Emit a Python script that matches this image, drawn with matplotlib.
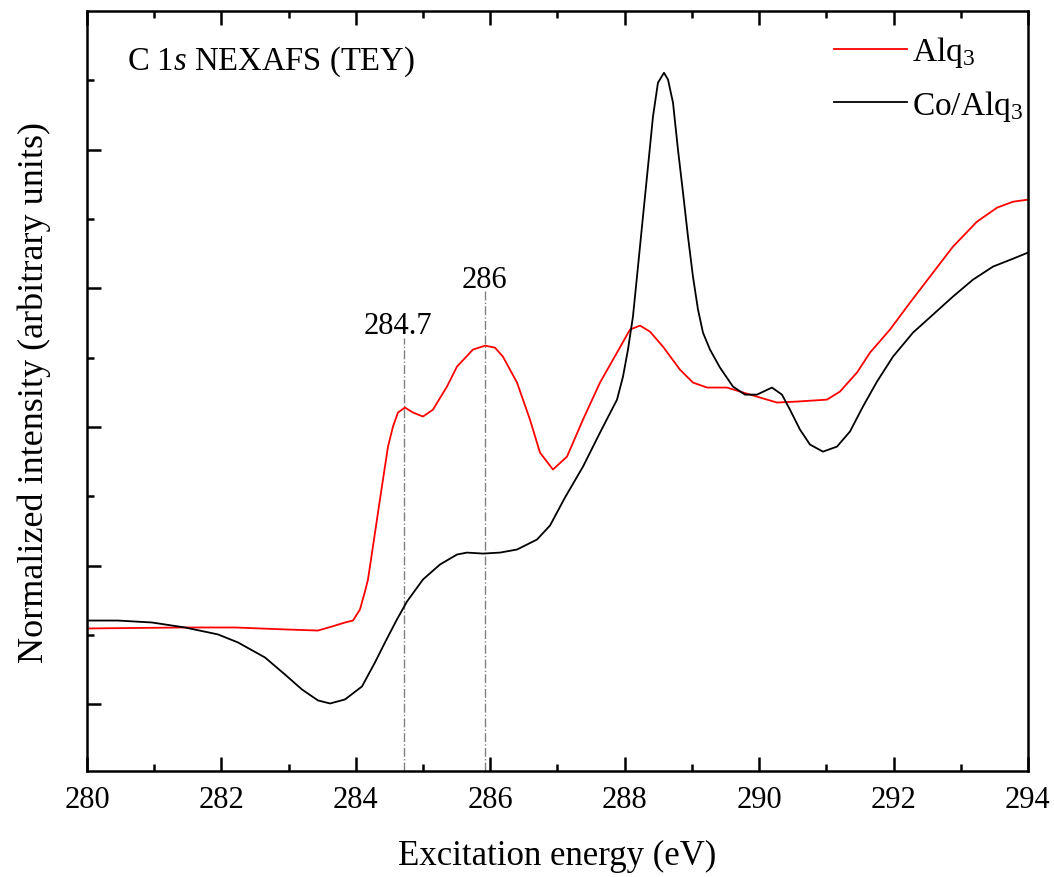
import numpy as np
import matplotlib.pyplot as plt

plt.rcParams['font.family'] = ['Liberation Serif', 'DejaVu Serif']
plt.rcParams['mathtext.fontset'] = 'custom'
plt.rcParams['mathtext.rm'] = 'Liberation Serif'
plt.rcParams['mathtext.it'] = 'Liberation Serif:italic'

# C 1s NEXAFS, Alq3
energy_alq = [280.000, 281.458, 282.202, 282.946, 283.437, 283.645, 283.839, 283.958, 284.062, 284.136,
              284.181, 284.255, 284.330, 284.404, 284.479, 284.553, 284.627, 284.731, 284.850, 284.999,
              285.148, 285.356, 285.505, 285.743, 285.922, 286.070, 286.189, 286.398, 286.591, 286.740,
              286.933, 287.142, 287.380, 287.633, 287.886, 288.079, 288.228, 288.377, 288.570, 288.823,
              289.016, 289.225, 289.522, 289.715, 290.013, 290.266, 290.563, 291.010, 291.203, 291.456,
              291.650, 291.947, 292.245, 292.542, 292.884, 293.241, 293.539, 293.777, 294.000]
intens_alq = [1.548, 1.555, 1.555, 1.541, 1.533, 1.562, 1.591, 1.605, 1.685, 1.814,
              1.901, 2.139, 2.384, 2.622, 2.859, 3.004, 3.105, 3.141, 3.105, 3.076,
              3.126, 3.292, 3.436, 3.559, 3.587, 3.573, 3.508, 3.321, 3.054, 2.816,
              2.694, 2.787, 3.054, 3.321, 3.537, 3.703, 3.732, 3.688, 3.580, 3.414,
              3.321, 3.285, 3.285, 3.256, 3.213, 3.177, 3.184, 3.198, 3.256, 3.393,
              3.537, 3.703, 3.897, 4.085, 4.301, 4.481, 4.582, 4.625, 4.640]

# Co/Alq3
energy_co = [280.000, 280.461, 280.967, 281.458, 281.949, 282.247, 282.648, 282.946, 283.199, 283.437,
             283.616, 283.839, 284.092, 284.285, 284.434, 284.612, 284.761, 284.999, 285.252, 285.505,
             285.654, 285.892, 286.145, 286.398, 286.695, 286.889, 287.112, 287.380, 287.633, 287.886,
             287.975, 288.049, 288.123, 288.198, 288.272, 288.347, 288.421, 288.495, 288.585, 288.645,
             288.719, 288.793, 288.868, 288.942, 289.016, 289.091, 289.165, 289.269, 289.418, 289.611,
             289.790, 289.968, 290.191, 290.340, 290.459, 290.608, 290.757, 290.950, 291.158, 291.352,
             291.545, 291.754, 291.992, 292.289, 292.587, 292.884, 293.182, 293.479, 293.777, 294.000]
intens_co = [1.605, 1.605, 1.591, 1.555, 1.505, 1.447, 1.339, 1.216, 1.108, 1.029,
             1.007, 1.036, 1.130, 1.303, 1.447, 1.613, 1.742, 1.901, 2.009, 2.081,
             2.095, 2.088, 2.095, 2.117, 2.189, 2.290, 2.492, 2.715, 2.960, 3.198,
             3.364, 3.559, 3.796, 4.157, 4.517, 4.878, 5.238, 5.483, 5.555, 5.505,
             5.339, 5.000, 4.690, 4.373, 4.085, 3.847, 3.681, 3.559, 3.429, 3.292,
             3.234, 3.234, 3.285, 3.234, 3.126, 2.982, 2.874, 2.823, 2.859, 2.968,
             3.148, 3.328, 3.508, 3.681, 3.811, 3.941, 4.063, 4.157, 4.214, 4.258]

# marked peaks
peak_pos = [284.72, 285.92]
peak_top = [3.645, 3.984]
peak_labels = ['284.7', '286']
label_x = [284.63, 285.92]
label_y = [3.68, 4.01]

fig = plt.figure(figsize=(10.54, 8.78), dpi=100)
ax = fig.add_axes([0.0825, 0.1207, 0.8928, 0.8656])

ylo, yhi = 0.52, 6.0
for xp, yt in zip(peak_pos, peak_top):
    ax.plot([xp, xp], [ylo, yt], color='gray', linestyle='-.', linewidth=1)
for xt, yt, lab in zip(label_x, label_y, peak_labels):
    ax.text(xt, yt, lab, ha='center', va='baseline', fontsize=22)

ax.plot(energy_alq, intens_alq, color='red', linewidth=1.3, label='Alq$_3$',
        solid_joinstyle='round')
ax.plot(energy_co, intens_co, color='black', linewidth=1.3, label='Co/Alq$_3$',
        solid_joinstyle='round')

ax.set_xlim(280, 294)
ax.set_ylim(ylo, yhi)
ax.set_xticks(np.arange(280, 295, 2))
ax.set_xticks(np.arange(281, 294, 2), minor=True)
ax.set_yticks([1, 2, 3, 4, 5])
ax.set_yticks([1.5, 2.5, 3.5, 4.5, 5.5], minor=True)
ax.set_yticklabels([])
ax.tick_params(which='both', direction='in', top=True, right=False, width=1.8, labelsize=22, pad=10)
ax.tick_params(which='major', length=10)
ax.tick_params(which='minor', length=5)
for s in ax.spines.values():
    s.set_linewidth(1.8)

ax.set_xlabel('Excitation energy (eV)', fontsize=25, labelpad=18)
ax.set_ylabel('Normalized intensity (arbitrary units)', fontsize=26, labelpad=16)

ax.text(0.0425, 0.924, 'C 1$\\it{s}$ NEXAFS (TEY)', transform=ax.transAxes,
        ha='left', va='baseline', fontsize=23.5)

ax.legend(loc='upper right', bbox_to_anchor=(1.02, 1.0), frameon=False, fontsize=24,
          handlelength=2.2, labelspacing=0.55, borderaxespad=0.3, handletextpad=0.15)

fig.savefig('out.png', dpi=100)
